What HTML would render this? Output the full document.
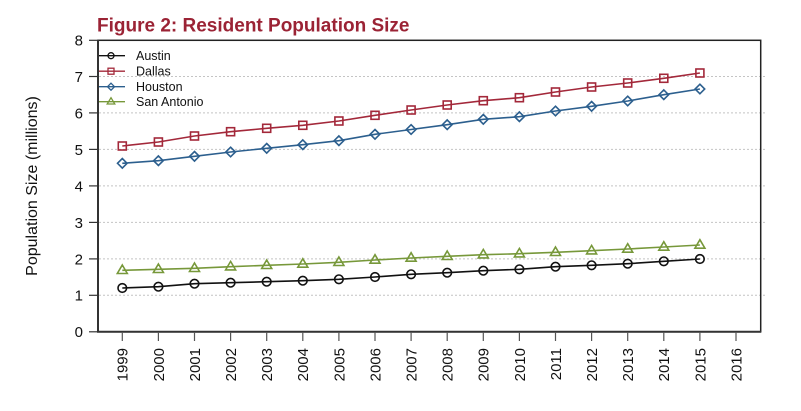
<!DOCTYPE html>
<html>
<head>
<meta charset="utf-8">
<style>
html,body{margin:0;padding:0;background:#fff;}
svg{display:block;}
text{font-family:"Liberation Sans",Arial,sans-serif;}
</style>
</head>
<body>
<svg width="801" height="411" viewBox="0 0 801 411" xmlns="http://www.w3.org/2000/svg">
<rect width="801" height="411" fill="#fff"/>
<!-- title -->
<text x="97" y="31.5" font-size="19" font-weight="bold" fill="#9b2335">Figure 2: Resident Population Size</text>

<!-- gridlines -->
<g stroke="#c4c4c4" stroke-width="1" stroke-dasharray="2,2">
<line x1="99" y1="295.3" x2="767" y2="295.3"/>
<line x1="99" y1="258.9" x2="767" y2="258.9"/>
<line x1="99" y1="222.4" x2="767" y2="222.4"/>
<line x1="99" y1="185.9" x2="767" y2="185.9"/>
<line x1="99" y1="149.4" x2="767" y2="149.4"/>
<line x1="99" y1="112.9" x2="767" y2="112.9"/>
<line x1="99" y1="76.5" x2="767" y2="76.5"/>
</g>

<!-- box -->
<rect x="98" y="40.3" width="662.7" height="291.5" fill="none" stroke="#222" stroke-width="1.5"/>
<line x1="98" y1="40" x2="98" y2="332.5" stroke="#333" stroke-width="2"/>
<line x1="97" y1="331.8" x2="761" y2="331.8" stroke="#333" stroke-width="2"/>

<!-- y ticks -->
<g stroke="#333" stroke-width="1.2">
<line x1="89" y1="331.8" x2="98" y2="331.8"/>
<line x1="89" y1="295.3" x2="98" y2="295.3"/>
<line x1="89" y1="258.9" x2="98" y2="258.9"/>
<line x1="89" y1="222.4" x2="98" y2="222.4"/>
<line x1="89" y1="185.9" x2="98" y2="185.9"/>
<line x1="89" y1="149.4" x2="98" y2="149.4"/>
<line x1="89" y1="112.9" x2="98" y2="112.9"/>
<line x1="89" y1="76.5" x2="98" y2="76.5"/>
<line x1="89" y1="40.3" x2="98" y2="40.3"/>
</g>
<g font-size="15" fill="#111" text-anchor="end">
<text x="83" y="337.2">0</text>
<text x="83" y="300.7">1</text>
<text x="83" y="264.3">2</text>
<text x="83" y="227.8">3</text>
<text x="83" y="191.3">4</text>
<text x="83" y="154.8">5</text>
<text x="83" y="118.3">6</text>
<text x="83" y="81.9">7</text>
<text x="83" y="45.7">8</text>
</g>
<text transform="translate(37,186) rotate(-90)" font-size="16" fill="#111" text-anchor="middle">Population Size (millions)</text>

<!-- x ticks -->
<g stroke="#555" stroke-width="1.2">
<line x1="122.3" y1="332" x2="122.3" y2="341"/>
<line x1="158.4" y1="332" x2="158.4" y2="341"/>
<line x1="194.5" y1="332" x2="194.5" y2="341"/>
<line x1="230.6" y1="332" x2="230.6" y2="341"/>
<line x1="266.7" y1="332" x2="266.7" y2="341"/>
<line x1="302.8" y1="332" x2="302.8" y2="341"/>
<line x1="338.9" y1="332" x2="338.9" y2="341"/>
<line x1="375.0" y1="332" x2="375.0" y2="341"/>
<line x1="411.1" y1="332" x2="411.1" y2="341"/>
<line x1="447.2" y1="332" x2="447.2" y2="341"/>
<line x1="483.3" y1="332" x2="483.3" y2="341"/>
<line x1="519.4" y1="332" x2="519.4" y2="341"/>
<line x1="555.5" y1="332" x2="555.5" y2="341"/>
<line x1="591.6" y1="332" x2="591.6" y2="341"/>
<line x1="627.7" y1="332" x2="627.7" y2="341"/>
<line x1="663.8" y1="332" x2="663.8" y2="341"/>
<line x1="699.9" y1="332" x2="699.9" y2="341"/>
<line x1="736.0" y1="332" x2="736.0" y2="341"/>
</g>
<g font-size="15" fill="#111" text-anchor="end">
<text transform="translate(127.7,348) rotate(-90)">1999</text>
<text transform="translate(163.8,348) rotate(-90)">2000</text>
<text transform="translate(199.9,348) rotate(-90)">2001</text>
<text transform="translate(236.0,348) rotate(-90)">2002</text>
<text transform="translate(272.1,348) rotate(-90)">2003</text>
<text transform="translate(308.2,348) rotate(-90)">2004</text>
<text transform="translate(344.3,348) rotate(-90)">2005</text>
<text transform="translate(380.4,348) rotate(-90)">2006</text>
<text transform="translate(416.5,348) rotate(-90)">2007</text>
<text transform="translate(452.6,348) rotate(-90)">2008</text>
<text transform="translate(488.7,348) rotate(-90)">2009</text>
<text transform="translate(524.8,348) rotate(-90)">2010</text>
<text transform="translate(560.9,348) rotate(-90)">2011</text>
<text transform="translate(597.0,348) rotate(-90)">2012</text>
<text transform="translate(633.1,348) rotate(-90)">2013</text>
<text transform="translate(669.2,348) rotate(-90)">2014</text>
<text transform="translate(705.3,348) rotate(-90)">2015</text>
<text transform="translate(741.4,348) rotate(-90)">2016</text>
</g>

<!-- Dallas -->
<g stroke="#a3283a" stroke-width="1.6" fill="none">
<polyline points="122.3,146 158.4,142 194.5,136 230.6,131.7 266.7,128.3 302.8,125.3 338.9,121 375,115.3 411.1,110 447.2,105 483.3,100.7 519.4,97.7 555.5,92 591.6,87 627.7,83 663.8,78.3 699.9,73"/>
<rect x="118.3" y="142" width="8" height="8"/>
<rect x="154.4" y="138" width="8" height="8"/>
<rect x="190.5" y="132" width="8" height="8"/>
<rect x="226.6" y="127.7" width="8" height="8"/>
<rect x="262.7" y="124.3" width="8" height="8"/>
<rect x="298.8" y="121.3" width="8" height="8"/>
<rect x="334.9" y="117" width="8" height="8"/>
<rect x="371" y="111.3" width="8" height="8"/>
<rect x="407.1" y="106" width="8" height="8"/>
<rect x="443.2" y="101" width="8" height="8"/>
<rect x="479.3" y="96.7" width="8" height="8"/>
<rect x="515.4" y="93.7" width="8" height="8"/>
<rect x="551.5" y="88" width="8" height="8"/>
<rect x="587.6" y="83" width="8" height="8"/>
<rect x="623.7" y="79" width="8" height="8"/>
<rect x="659.8" y="74.3" width="8" height="8"/>
<rect x="695.9" y="69" width="8" height="8"/>
</g>

<!-- Houston -->
<g stroke="#2c5f8e" stroke-width="1.6" fill="none">
<polyline points="122.3,163.3 158.4,160.7 194.5,156.3 230.6,152 266.7,148.3 302.8,144.7 338.9,140.7 375,134.3 411.1,129.5 447.2,124.7 483.3,119.3 519.4,116.7 555.5,111 591.6,106.3 627.7,101 663.8,94.7 699.9,89"/>
<path d="M122.3,158.5l4.8,4.8l-4.8,4.8l-4.8,-4.8z M158.4,155.9l4.8,4.8l-4.8,4.8l-4.8,-4.8z M194.5,151.5l4.8,4.8l-4.8,4.8l-4.8,-4.8z M230.6,147.2l4.8,4.8l-4.8,4.8l-4.8,-4.8z M266.7,143.5l4.8,4.8l-4.8,4.8l-4.8,-4.8z M302.8,139.9l4.8,4.8l-4.8,4.8l-4.8,-4.8z M338.9,135.9l4.8,4.8l-4.8,4.8l-4.8,-4.8z M375,129.5l4.8,4.8l-4.8,4.8l-4.8,-4.8z M411.1,124.7l4.8,4.8l-4.8,4.8l-4.8,-4.8z M447.2,119.9l4.8,4.8l-4.8,4.8l-4.8,-4.8z M483.3,114.5l4.8,4.8l-4.8,4.8l-4.8,-4.8z M519.4,111.9l4.8,4.8l-4.8,4.8l-4.8,-4.8z M555.5,106.2l4.8,4.8l-4.8,4.8l-4.8,-4.8z M591.6,101.5l4.8,4.8l-4.8,4.8l-4.8,-4.8z M627.7,96.2l4.8,4.8l-4.8,4.8l-4.8,-4.8z M663.8,89.9l4.8,4.8l-4.8,4.8l-4.8,-4.8z M699.9,84.2l4.8,4.8l-4.8,4.8l-4.8,-4.8z"/>
</g>

<!-- San Antonio -->
<g stroke="#77983a" stroke-width="1.6" fill="none">
<polyline points="122.3,270.3 158.4,269.3 194.5,268.3 230.6,266.7 266.7,265.3 302.8,264 338.9,262.3 375,260 411.1,258 447.2,256.3 483.3,254.7 519.4,253.7 555.5,252.3 591.6,250.7 627.7,249 663.8,247 699.9,245"/>
<path d="M122.3,265l5,8.5h-10z M158.4,264l5,8.5h-10z M194.5,263l5,8.5h-10z M230.6,261.4l5,8.5h-10z M266.7,260l5,8.5h-10z M302.8,258.7l5,8.5h-10z M338.9,257l5,8.5h-10z M375,254.7l5,8.5h-10z M411.1,252.7l5,8.5h-10z M447.2,251l5,8.5h-10z M483.3,249.4l5,8.5h-10z M519.4,248.4l5,8.5h-10z M555.5,247l5,8.5h-10z M591.6,245.4l5,8.5h-10z M627.7,243.7l5,8.5h-10z M663.8,241.7l5,8.5h-10z M699.9,239.7l5,8.5h-10z"/>
</g>

<!-- Austin -->
<g stroke="#111" stroke-width="1.6" fill="none">
<polyline points="122.3,288 158.4,286.7 194.5,283.7 230.6,282.7 266.7,281.7 302.8,280.7 338.9,279.3 375,277 411.1,274.3 447.2,272.7 483.3,270.7 519.4,269.3 555.5,266.7 591.6,265.3 627.7,263.7 663.8,261.3 699.9,259"/>
<circle cx="122.3" cy="288" r="4.3"/>
<circle cx="158.4" cy="286.7" r="4.3"/>
<circle cx="194.5" cy="283.7" r="4.3"/>
<circle cx="230.6" cy="282.7" r="4.3"/>
<circle cx="266.7" cy="281.7" r="4.3"/>
<circle cx="302.8" cy="280.7" r="4.3"/>
<circle cx="338.9" cy="279.3" r="4.3"/>
<circle cx="375" cy="277" r="4.3"/>
<circle cx="411.1" cy="274.3" r="4.3"/>
<circle cx="447.2" cy="272.7" r="4.3"/>
<circle cx="483.3" cy="270.7" r="4.3"/>
<circle cx="519.4" cy="269.3" r="4.3"/>
<circle cx="555.5" cy="266.7" r="4.3"/>
<circle cx="591.6" cy="265.3" r="4.3"/>
<circle cx="627.7" cy="263.7" r="4.3"/>
<circle cx="663.8" cy="261.3" r="4.3"/>
<circle cx="699.9" cy="259" r="4.3"/>
</g>

<!-- legend -->
<g stroke-width="1.3" fill="none">
<line x1="99" y1="55.7" x2="125" y2="55.7" stroke="#111"/>
<circle cx="111" cy="55.7" r="3" stroke="#111"/>
<line x1="99" y1="71.2" x2="125" y2="71.2" stroke="#a3283a"/>
<rect x="108" y="68.2" width="6" height="6" stroke="#a3283a"/>
<line x1="99" y1="86.7" x2="125" y2="86.7" stroke="#2c5f8e"/>
<path d="M111,83.2l3.5,3.5l-3.5,3.5l-3.5,-3.5z" stroke="#2c5f8e"/>
<line x1="99" y1="101.7" x2="125" y2="101.7" stroke="#77983a"/>
<path d="M111,97.7l3.8,6.3h-7.6z" stroke="#77983a"/>
</g>
<g font-size="12.5" fill="#111">
<text x="136" y="60.2">Austin</text>
<text x="136" y="75.7">Dallas</text>
<text x="136" y="91.2">Houston</text>
<text x="136" y="106.2">San Antonio</text>
</g>
</svg>
</body>
</html>
